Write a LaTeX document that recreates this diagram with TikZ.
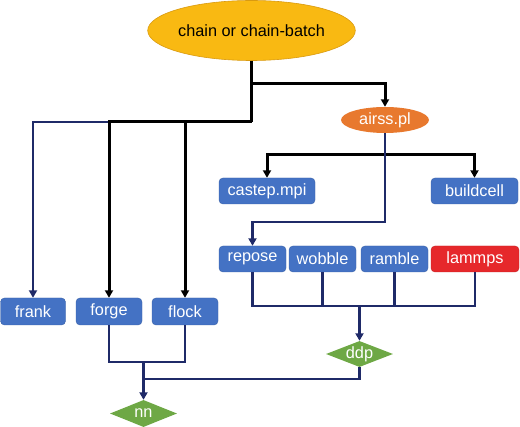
\documentclass[tikz,border=0pt]{standalone}
\usepackage{fontspec}
\setmainfont{Liberation Sans}
\usetikzlibrary{shapes.geometric,arrows.meta}
\definecolor{boxblue}{HTML}{4472C4}
\definecolor{boxred}{HTML}{E6282B}
\definecolor{dgreen}{HTML}{6EA845}
\definecolor{topyel}{HTML}{F9B912}
\definecolor{topedge}{HTML}{D99A10}
\definecolor{airor}{HTML}{E8792E}
\definecolor{navy}{HTML}{1F2A68}
\tikzset{
  fnt/.style={font=\fontsize{16.3}{18}\selectfont},
  bbox/.style={fnt, rectangle, rounded corners=4pt, fill=boxblue, draw=boxblue!85!black, line width=0.4pt, text=white, minimum height=26pt, inner sep=0pt},
  gdia/.style={fnt, diamond, fill=dgreen, text=white, minimum width=67pt, minimum height=26pt, inner sep=0pt, aspect=2.6},
  blk/.style={draw=black, line width=3pt},
  nav/.style={draw=navy, line width=2.6pt},
  tip/.style={-{Triangle[length=7.5pt,width=8pt]}},
}
\begin{document}
\begin{tikzpicture}[x=1pt,y=-1pt]
\useasboundingbox (0,0) rectangle (520,427);
% nodes
\node[fnt, ellipse, fill=topyel, draw=topedge, line width=0.6pt, minimum width=163pt, minimum height=60pt, inner sep=0pt] (top) at (251.5,30.5) {chain or chain-batch};
\node[fnt, ellipse, fill=airor, text=white, minimum width=88pt, minimum height=26pt, inner sep=0pt] (airss) at (385,120) {airss.pl};
\node[bbox, minimum width=96pt] (castep) at (267,191) {castep.mpi};
\node[bbox, minimum width=87pt] (buildcell) at (474.5,191) {buildcell};
\node[bbox, minimum width=67pt] (repose) at (252.5,259) {repose};
\node[bbox, minimum width=67pt] (wobble) at (322.5,259) {wobble};
\node[bbox, minimum width=67pt] (ramble) at (394.5,259) {ramble};
\node[bbox, minimum width=88pt, fill=boxred, draw=boxred!85!black] (lammps) at (475,259) {lammps};
\node[bbox, minimum width=65pt, minimum height=27pt] (frank) at (33,311.5) {frank};
\node[bbox, minimum width=66pt, minimum height=27pt] (forge) at (109,311.5) {forge};
\node[bbox, minimum width=66pt, minimum height=27pt] (flock) at (185,311.5) {flock};
\node[gdia] (ddp) at (359.5,354) {ddp};
\node[gdia, minimum height=27pt] (nn) at (143.5,413.5) {nn};
% junctions
\coordinate (j1) at (251.5,122);
\coordinate (j2) at (251.5,84);
\coordinate (j3) at (385,155);
\coordinate (j4) at (385,222);
\coordinate (j5) at (359.5,306);
\coordinate (j6) at (143.5,362);
\coordinate (j7) at (143.5,379);
% connectors from top
\draw[nav,tip] (forge.north |- j1) -| (frank.north);
\draw[blk] (top.south) -- (j1);
\draw[blk,tip] (j1) -| (forge.north);
\draw[blk,tip] (flock.north |- j1) -- (flock.north);
\draw[blk,tip] (j2) -| (airss.north);
% from airss
\draw[blk,tip] (j3) -| (castep.north);
\draw[blk,tip] (j3) -| (buildcell.north);
\draw[nav,tip] (airss.south) -- (j4) -| (repose.north);
% to ddp
\draw[nav] (repose.south) |- (j5) -| (lammps.south);
\draw[nav] (wobble.south) -- (wobble.south |- j5);
\draw[nav] (ramble.south) -- (ramble.south |- j5);
\draw[nav,tip] (j5) -- (ddp.north);
% to nn
\draw[nav] (forge.south) |- (j6) -| (flock.south);
\draw[nav,tip] (j6) -- (nn.north);
\draw[nav] (ddp.south) |- (j7);
\end{tikzpicture}
\end{document}
